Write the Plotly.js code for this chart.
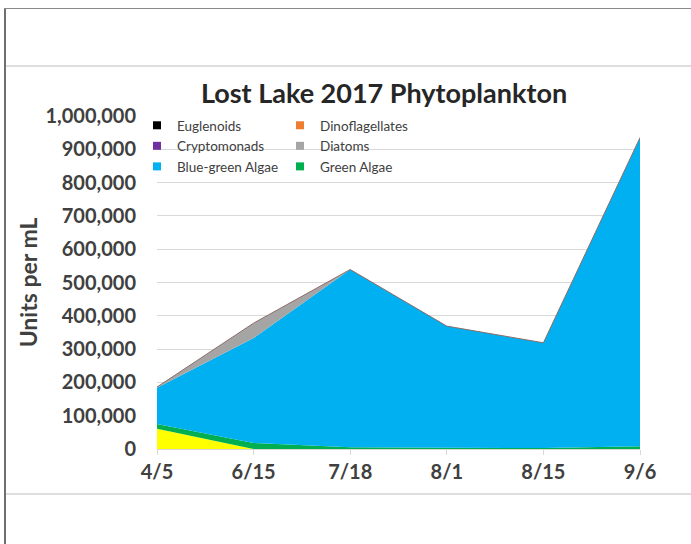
<!DOCTYPE html>
<html>
<head>
<meta charset="utf-8">
<script src="https://cdn.plot.ly/plotly-3.0.1.min.js"></script>
<style>
  html, body { margin: 0; padding: 0; background: #ffffff; }
  #wrap { position: relative; width: 691px; height: 544px; overflow: hidden; }
  #chart { position: absolute; left: 0; top: 0; width: 691px; height: 544px; }
  .ln { position: absolute; z-index: 5; }
</style>
</head>
<body>
<div id="wrap">
  <div id="chart"></div>
  <div class="ln" style="left:4px;top:8px;width:2px;height:536px;background:#6f6f6f;"></div>
  <div class="ln" style="left:4px;top:8px;width:687px;height:1px;background:#8a8a8a;"></div>
  <div class="ln" style="left:6px;top:65px;width:685px;height:2px;background:#dedede;"></div>
  <div class="ln" style="left:6px;top:493px;width:685px;height:2px;background:#dedede;"></div>
</div>
<script>
// ---- data ----
var dates = ['4/5', '6/15', '7/18', '8/1', '8/15', '9/6'];
var goldenAlgae    = [61000, 0, 0, 0, 0, 0];
var greenAlgae     = [14000, 18000, 5000, 3000, 3000, 8000];
var blueGreenAlgae = [109000, 315000, 534000, 366000, 316000, 927000];
var diatoms        = [2000, 45000, 0, 0, 0, 0];
var cryptomonads   = [0, 0, 0, 0, 0, 0];
var dinoflagellates= [0, 0, 0, 0, 0, 0];
var euglenoids     = [0, 0, 0, 0, 0, 0];
var yTickVals = [0, 100000, 200000, 300000, 400000, 500000, 600000, 700000, 800000, 900000, 1000000];

var FONT = 'Lato, "Open Sans", sans-serif';

function area(name, y, color, lineColor, lineWidth) {
  return {
    type: 'scatter', mode: 'lines', name: name, x: dates, y: y,
    stackgroup: 'one', fillcolor: color,
    line: { color: lineColor || color, width: lineWidth || 0 },
    showlegend: false, hoverinfo: 'skip'
  };
}
function legendItem(name, color, legendId) {
  return {
    type: 'scatter', mode: 'markers', name: name, x: [dates[0]], y: [null],
    marker: { symbol: 'square', size: 8, color: color },
    legend: legendId, showlegend: true, hoverinfo: 'skip'
  };
}

var traces = [
  area('Golden Algae', goldenAlgae, '#ffff00'),
  area('Green Algae', greenAlgae, '#00b050'),
  area('Blue-green Algae', blueGreenAlgae, '#00b0f0'),
  area('Diatoms', diatoms, '#a5a5a5'),
  area('Cryptomonads', cryptomonads, '#7030a0'),
  area('Dinoflagellates', dinoflagellates, '#ed7d31'),
  area('Euglenoids', euglenoids, '#000000', '#8c6d68', 1),
  legendItem('Euglenoids', '#000000', 'legend'),
  legendItem('Cryptomonads', '#7030a0', 'legend'),
  legendItem('Blue-green Algae', '#00b0f0', 'legend'),
  legendItem('Dinoflagellates', '#ed7d31', 'legend2'),
  legendItem('Diatoms', '#a5a5a5', 'legend2'),
  legendItem('Green Algae', '#00b050', 'legend2')
];

var legendCommon = {
  orientation: 'v', yanchor: 'top', xanchor: 'left',
  bgcolor: 'rgba(0,0,0,0)', borderwidth: 0, tracegroupgap: 0,
  font: { family: FONT, size: 13.5, color: '#404040' },
  traceorder: 'normal', itemclick: false
};

var layout = {
  width: 691, height: 544,
  paper_bgcolor: '#ffffff', plot_bgcolor: '#ffffff',
  margin: { l: 157, r: 51, t: 116, b: 95 },
  font: { family: FONT, color: '#404040' },
  title: {
    text: '<b>Lost Lake 2017 Phytoplankton</b>',
    font: { family: FONT, size: 27, color: '#262626' },
    x: 384 / 691, xref: 'container', xanchor: 'center',
    y: 1 - 94 / 544, yref: 'container', yanchor: 'middle'
  },
  xaxis: {
    type: 'category', range: [0, dates.length - 1],
    showline: true, linecolor: '#d9d9d9', linewidth: 1,
    ticks: 'outside', ticklen: 5, tickcolor: '#d9d9d9',
    showgrid: false, zeroline: false,
    tickfont: { family: FONT, size: 20, color: '#404040', weight: 'bold' },
    ticklabelstandoff: 0
  },
  yaxis: {
    range: [0, 1000000], tickvals: yTickVals, tickformat: ',',
    showgrid: true, gridcolor: '#d9d9d9', gridwidth: 1,
    zeroline: false, showline: false, ticks: '',
    tickfont: { family: FONT, size: 20, color: '#404040', weight: 'bold' },
    ticklabelstandoff: 20,
    title: {
      text: '<b>Units per mL</b>',
      font: { family: FONT, size: 23, color: '#404040' },
      standoff: 1
    }
  },
  legend: Object.assign({}, legendCommon, { x: (137 - 157) / 483, y: (449 - 110) / 333 }),
  legend2: Object.assign({}, legendCommon, { x: (280 - 157) / 483, y: (449 - 110) / 333 }),
  hovermode: false
};

Plotly.newPlot('chart', traces, layout, { displayModeBar: false, staticPlot: true });
</script>
</body>
</html>
